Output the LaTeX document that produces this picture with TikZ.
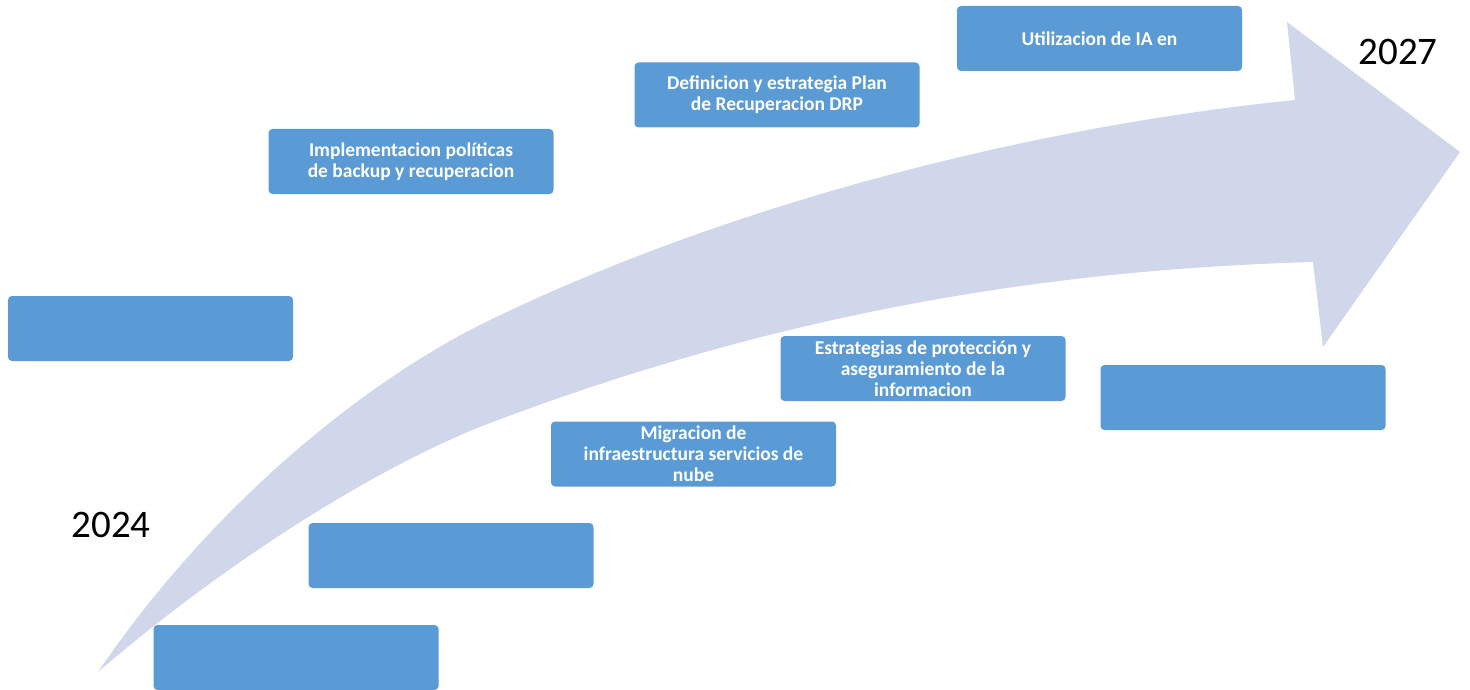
\documentclass[tikz,border=0pt]{standalone}
\usepackage{fontspec}
\setmainfont{Carlito}
\usepackage{tikz}
\definecolor{hitoazul}{HTML}{5B9BD5}
\definecolor{flechafondo}{HTML}{D0D7EB}

\begin{document}
\begin{tikzpicture}[x=1pt,y=-1pt,
		hito/.style={fill=hitoazul,rounded corners=4pt,minimum width=285pt,minimum height=65pt,inner sep=0pt,text=white,align=center,font=\fontsize{19.5}{20.8}\selectfont\bfseries},
		anio/.style={font=\fontsize{39}{40}\selectfont}]
			\useasboundingbox (0,0) rectangle (1470,690);
			% flecha curva de fondo
			\fill[flechafondo] (98,672) .. controls (208,510) and (360,383) .. (490,320)
			.. controls (740,199) and (1045,125) .. (1295,100)
			-- (1287,22) -- (1460,152) -- (1323,347) -- (1313,262)
			.. controls (1033,270) and (770,317) .. (490,423)
			.. controls (380,465) and (228,560) .. (98,672) -- cycle;
			\node[hito] (impl) at (411,161.5) {Implementacion políticas\\de backup y recuperacion};
			\node[hito] (drp) at (777,95) {Definicion y estrategia Plan\\de Recuperacion DRP};
			\node[hito] (ia) at (1099.5,38.5) {Utilizacion de IA en};
			\node[hito] (vacio1) at (150.5,328.5) {};
			\node[hito] (prot) at (923,368.5) {Estrategias de protección y\\aseguramiento de la\\informacion};
			\node[hito] (vacio2) at (1243,397.5) {};
			\node[hito] (migr) at (693.5,454) {Migracion de\\infraestructura servicios de\\nube};
			\node[hito] (vacio3) at (451,555.5) {};
			\node[hito] (vacio4) at (296,657.5) {};
			\node[anio] (inicio) at (111,525) {2024};
			\node[anio] (fin) at (1398,52) {2027};
		\end{tikzpicture}
\end{document}
